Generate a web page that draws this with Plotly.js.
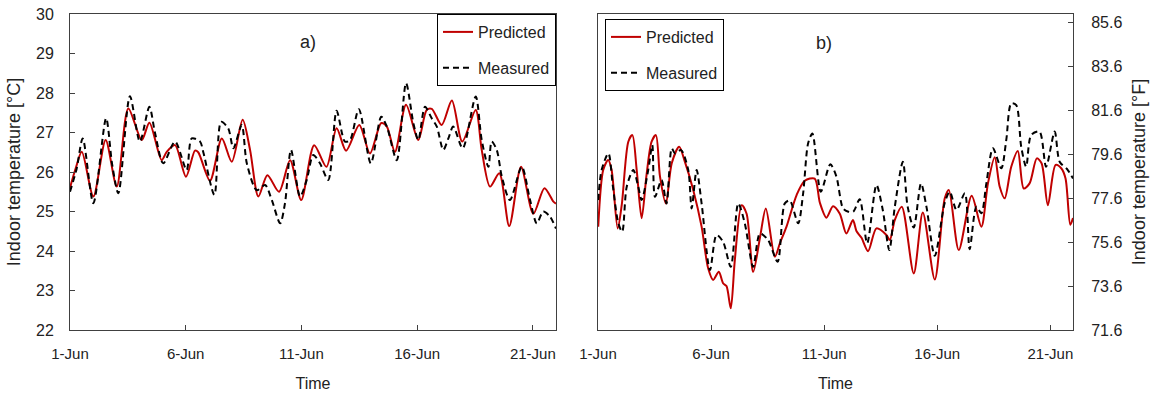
<!DOCTYPE html>
<html>
<head>
<meta charset="utf-8">
<script src="https://cdn.plot.ly/plotly-3.0.1.min.js"></script>
<style>html,body{margin:0;padding:0;background:#fff;}#chart{width:1154px;height:396px;}</style>
</head>
<body>
<div id="chart"></div>
<script>
// ---- Tick labels ----
const tickDays = [1, 6, 11, 16, 21];
const tickLabels = ['1-Jun', '6-Jun', '11-Jun', '16-Jun', '21-Jun'];

// ---- Panel a) (°C) ----
const aPredDay = [1.0,1.25,1.51,2.01,2.54,3.02,3.52,4.10,4.43,4.96,5.18,5.54,6.01,6.40,6.54,7.05,7.56,7.99,8.46,8.78,9.14,9.53,10.03,10.51,10.99,11.55,12.08,12.52,12.93,13.50,13.96,14.45,14.69,15.04,15.52,16.05,16.41,16.63,17.06,17.50,17.95,18.53,18.79,19.15,19.55,19.98,20.49,21.02,21.50,21.89,22.0];
const aPredT   = [25.6,26.1,26.51,25.38,26.81,25.63,27.61,26.81,27.25,26.30,26.51,26.68,25.88,26.54,26.5,25.78,26.85,26.26,27.32,26.56,25.38,25.92,25.50,26.30,25.29,26.68,26.13,27.11,26.54,27.19,26.47,27.24,27.15,26.51,27.70,26.81,27.57,27.6,27.19,27.81,26.77,27.57,26.56,25.63,25.97,24.63,26.13,24.94,25.59,25.25,25.2];

const aMeasDay = [1.0,1.29,1.55,2.01,2.56,2.82,3.09,3.59,4.02,4.43,4.67,5.03,5.54,6.04,6.26,6.62,6.76,7.24,7.53,7.84,8.06,8.42,8.64,9.07,9.43,9.72,10.08,10.29,10.55,10.94,11.23,11.51,11.80,12.16,12.52,12.88,13.10,13.48,14.0,14.45,14.69,15.12,15.52,15.84,16.05,16.34,16.63,16.85,17.13,17.35,17.56,17.97,18.53,18.79,19.08,19.22,19.44,19.66,20.01,20.52,20.88,21.17,21.45,21.74,22.0];
const aMeasT   = [25.5,26.09,26.85,25.21,27.36,26.2,25.46,27.92,26.77,27.65,27.0,26.22,26.77,26.05,26.85,26.77,26.5,25.42,27.27,27.10,26.6,27.19,26.22,25.54,25.67,25.29,24.70,25.21,26.56,25.38,25.8,26.43,26.22,25.80,27.55,26.77,26.81,27.59,26.22,27.40,27.15,26.30,28.25,27.23,26.81,27.65,27.36,27.15,26.56,26.85,27.15,26.60,27.91,26.81,26.13,26.77,26.56,25.88,25.29,26.13,25.29,24.70,25.0,24.87,24.57];

// ---- Panel b) (°F) ----
const bPredDay = [1.01,1.23,1.45,1.60,1.87,2.05,2.34,2.52,2.71,2.93,3.15,3.37,3.56,3.74,4.00,4.26,4.59,4.84,5.21,5.58,5.87,6.09,6.34,6.53,6.68,6.87,7.05,7.35,7.57,7.86,8.16,8.42,8.82,9.04,9.33,9.78,10.14,10.58,10.81,11.10,11.39,11.69,11.98,12.27,12.43,12.65,12.94,13.31,13.75,13.90,14.12,14.43,14.96,15.36,15.89,16.33,16.51,16.95,17.52,17.95,18.24,18.54,18.76,18.98,19.27,19.56,19.82,20.08,20.40,20.61,20.89,21.23,21.48,21.67,21.88,22.0];
const bPredF   = [76.31,78.89,79.35,78.9,76.23,77.3,80.18,80.48,78.9,76.69,78.7,80.18,80.48,78.6,77.37,79.2,79.95,79.27,77.98,76.31,74.41,73.88,74.25,73.73,73.6,72.59,74.8,77.29,76.9,74.25,75.8,77.14,74.94,75.55,76.3,77.75,78.4,78.5,77.4,76.72,77.24,76.9,76.0,76.61,76.1,75.8,75.19,76.23,75.93,75.70,76.61,77.22,74.18,76.95,73.9,77.60,77.98,75.24,77.72,76.31,78.28,79.47,78.13,77.60,79.04,79.76,78.05,78.28,79.42,79.2,77.29,79.12,78.97,78.5,76.4,76.7];

const bMeasDay = [1.01,1.16,1.46,1.66,1.90,2.07,2.27,2.56,2.78,2.93,3.22,3.40,3.52,3.81,4.03,4.26,4.40,4.67,4.99,5.14,5.36,5.58,5.95,6.24,6.53,6.87,7.20,7.49,7.86,8.16,8.52,8.94,9.26,9.48,9.85,10.07,10.29,10.48,10.85,11.27,11.54,11.83,12.04,12.28,12.57,12.90,13.31,13.59,13.88,14.12,14.48,14.69,14.96,15.28,15.52,15.89,16.33,16.55,16.85,17.22,17.43,17.73,17.95,18.17,18.46,18.83,19.05,19.27,19.49,19.71,19.93,20.15,20.52,20.81,21.19,21.41,21.77,22.0];
const bMeasF   = [77.52,78.89,79.65,78.13,76.46,76.08,78.13,78.89,78.13,77.52,78.89,80.03,77.67,78.43,77.37,79.88,79.65,79.80,78.89,77.14,78.89,77.37,74.33,75.93,75.62,74.48,77.37,76.46,74.48,76.0,75.70,74.71,77.37,77.5,76.46,77.83,80.11,80.55,77.9,79.15,78.59,77.15,77.0,76.99,77.56,75.55,78.21,77.07,75.24,77.2,79.27,77.22,76.27,78.28,77.22,74.98,77.4,77.9,77.07,77.83,75.28,77.22,76.92,78.28,79.88,78.97,80.26,81.93,81.85,79.95,79.04,80.48,80.64,79.04,80.64,79.27,78.89,78.5];

const FONT = 'Liberation Sans, Arial, sans-serif';
const RED = '#C00000';
const AX = '#404040';

const predLine = {color: RED, width: 2, shape: 'spline', smoothing: 0.8};
const measLine = {color: '#000000', width: 2, dash: '6px,4px', shape: 'spline', smoothing: 0.8};

const traces = [
  {x: aPredDay, y: aPredT, type: 'scatter', mode: 'lines', name: 'Predicted', line: predLine, xaxis: 'x', yaxis: 'y', legend: 'legend', legendgroup: 'ap'},
  {x: aMeasDay, y: aMeasT, type: 'scatter', mode: 'lines', name: 'Measured', line: measLine, xaxis: 'x', yaxis: 'y', legend: 'legend', legendgroup: 'am'},
  {x: bPredDay, y: bPredF, type: 'scatter', mode: 'lines', name: 'Predicted', line: predLine, xaxis: 'x2', yaxis: 'y2', legend: 'legend2', legendgroup: 'bp'},
  {x: bMeasDay, y: bMeasF, type: 'scatter', mode: 'lines', name: 'Measured', line: measLine, xaxis: 'x2', yaxis: 'y2', legend: 'legend2', legendgroup: 'bm'}
];

const W = 1154;
const xAxisBase = {
  range: [1, 22], tickmode: 'array', tickvals: tickDays, ticktext: tickLabels,
  ticks: 'inside', ticklen: 5, tickcolor: AX, showline: true, linecolor: AX, linewidth: 1, mirror: true,
  showgrid: false, zeroline: false, tickfont: {family: FONT, size: 15, color: '#222'},
  ticklabelstandoff: 10,
  title: {text: 'Time', font: {family: FONT, size: 16, color: '#222'}, standoff: 16}
};

const layout = {
  width: W, height: 396,
  margin: {l: 0, r: 0, t: 14, b: 66},
  paper_bgcolor: '#fff', plot_bgcolor: '#fff',
  showlegend: true,
  xaxis: Object.assign({}, xAxisBase, {domain: [70 / W, 556 / W], anchor: 'y'}),
  xaxis2: Object.assign({}, xAxisBase, {domain: [598 / W, 1073 / W], anchor: 'y2'}),
  yaxis: {
    domain: [0, 1], anchor: 'x', range: [22, 30], dtick: 1, tick0: 22,
    ticks: 'inside', ticklen: 5, tickcolor: AX, showline: true, linecolor: AX, linewidth: 1, mirror: true,
    showgrid: false, zeroline: false, tickfont: {family: FONT, size: 16, color: '#222'},
    ticklabelstandoff: 12,
    title: {text: 'Indoor temperature [°C]', font: {family: FONT, size: 18, color: '#222'}, standoff: 10}
  },
  yaxis2: {
    domain: [0, 1], anchor: 'x2', side: 'right', range: [71.6, 86], tick0: 71.6, dtick: 2, tickformat: '.1f',
    ticks: 'inside', ticklen: 5, tickcolor: AX, showline: true, linecolor: AX, linewidth: 1, mirror: true,
    showgrid: false, zeroline: false, tickfont: {family: FONT, size: 16, color: '#222'},
    ticklabelstandoff: 14,
    title: {text: 'Indoor temperature [°F]', font: {family: FONT, size: 18, color: '#222'}, standoff: 10}
  },
  legend: {
    x: 556 / W, xanchor: 'right', y: 1, yanchor: 'top',
    bgcolor: '#fff', bordercolor: '#000', borderwidth: 1,
    font: {family: FONT, size: 16, color: '#222'}, traceorder: 'grouped', tracegroupgap: 12
  },
  legend2: {
    x: 605 / W, xanchor: 'left', y: 1 - 5 / 316, yanchor: 'top',
    bgcolor: '#fff', bordercolor: '#000', borderwidth: 1,
    font: {family: FONT, size: 16, color: '#222'}, traceorder: 'grouped', tracegroupgap: 12
  },
  annotations: [
    {text: 'a)', xref: 'x', yref: 'y', x: 11.3, y: 29.3, showarrow: false, font: {family: FONT, size: 18, color: '#222'}},
    {text: 'b)', xref: 'x2', yref: 'y2', x: 11.0, y: 84.7, showarrow: false, font: {family: FONT, size: 18, color: '#222'}}
  ]
};

Plotly.newPlot('chart', traces, layout, {displayModeBar: false, staticPlot: true});
</script>
</body>
</html>
